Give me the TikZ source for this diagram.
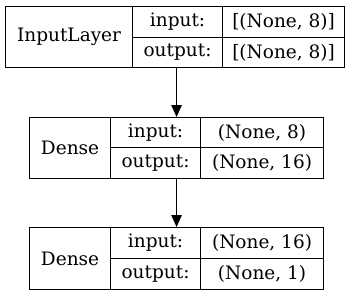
\documentclass[tikz,border=0pt]{standalone}
\usepackage{fontspec}
\setmainfont{DejaVu Serif}
\usetikzlibrary{arrows.meta}
\tikzset{
  cell/.style={draw=black, line width=1.1pt, rectangle, inner sep=0pt, anchor=north west, font=\fontsize{18.5}{21}\selectfont},
  link/.style={draw=black, line width=1.1pt, -{Triangle[length=12pt,width=10.5pt]}}
}
\begin{document}
\begin{tikzpicture}[x=1pt,y=-1pt]
\useasboundingbox (0,0) rectangle (352,295);
% layer 1
\node[cell, minimum width=127pt, minimum height=61pt] (n1) at (5,6) {InputLayer};
\node[cell, minimum width=90pt, minimum height=31pt] (i1) at (132,6) {input:};
\node[cell, minimum width=122pt, minimum height=31pt] (iv1) at (222,6) {[(None, 8)]};
\node[cell, minimum width=90pt, minimum height=30pt] (o1) at (132,37) {output:};
\node[cell, minimum width=122pt, minimum height=30pt] (ov1) at (222,37) {[(None, 8)]};
% layer 2
\node[cell, minimum width=81pt, minimum height=61pt] (n2) at (29,117) {Dense};
\node[cell, minimum width=90pt, minimum height=30pt] (i2) at (110,117) {input:};
\node[cell, minimum width=123pt, minimum height=30pt] (iv2) at (200,117) {(None, 8)};
\node[cell, minimum width=90pt, minimum height=31pt] (o2) at (110,147) {output:};
\node[cell, minimum width=123pt, minimum height=31pt] (ov2) at (200,147) {(None, 16)};
% layer 3
\node[cell, minimum width=81pt, minimum height=62pt] (n3) at (29,227) {Dense};
\node[cell, minimum width=90pt, minimum height=31pt] (i3) at (110,227) {input:};
\node[cell, minimum width=123pt, minimum height=31pt] (iv3) at (200,227) {(None, 16)};
\node[cell, minimum width=90pt, minimum height=31pt] (o3) at (110,258) {output:};
\node[cell, minimum width=123pt, minimum height=31pt] (ov3) at (200,258) {(None, 1)};
% connectors
\coordinate (a1) at ([xshift=-1pt]o1.south);
\draw[link] (a1) -- (a1 |- i2.north);
\coordinate (a2) at (o2.south -| a1);
\draw[link] (a2) -- (a2 |- i3.north);
\end{tikzpicture}
\end{document}
